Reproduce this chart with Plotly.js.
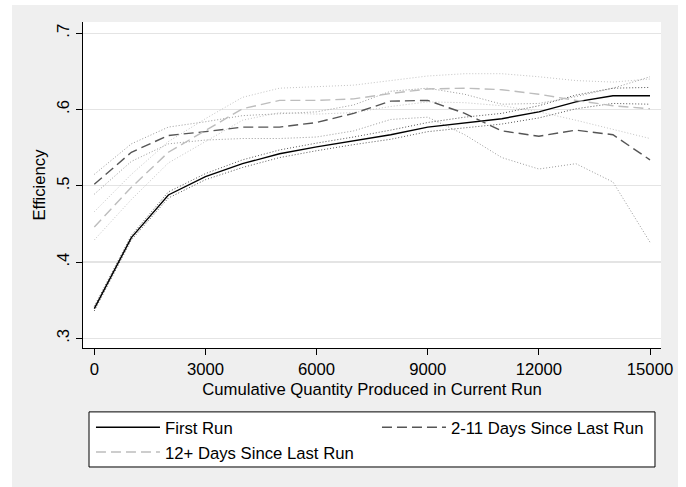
<!DOCTYPE html>
<html>
<head>
<meta charset="utf-8">
<script src="https://cdn.plot.ly/plotly-3.0.1.min.js"></script>
<style>
  html, body { margin: 0; padding: 0; background: #ffffff; }
  #chart { position: absolute; left: 12px; top: 5px; width: 666px; height: 482px; }
</style>
</head>
<body>
<div id="chart"></div>
<script>
// ---- data ----
const quantity = [0, 1000, 2000, 3000, 4000, 5000, 6000, 7000, 8000, 9000, 10000, 11000, 12000, 13000, 14000, 15000];

const firstRun      = [0.339, 0.432, 0.488, 0.512, 0.529, 0.542, 0.551, 0.559, 0.567, 0.577, 0.583, 0.588, 0.597, 0.610, 0.618, 0.618];
const firstRunUpper = [0.342, 0.435, 0.492, 0.516, 0.534, 0.547, 0.556, 0.564, 0.573, 0.583, 0.590, 0.595, 0.605, 0.619, 0.628, 0.629];
const firstRunLower = [0.336, 0.429, 0.484, 0.508, 0.524, 0.537, 0.546, 0.554, 0.561, 0.571, 0.576, 0.581, 0.589, 0.601, 0.608, 0.607];

const days2to11      = [0.502, 0.544, 0.566, 0.571, 0.577, 0.577, 0.583, 0.595, 0.611, 0.612, 0.595, 0.572, 0.565, 0.573, 0.567, 0.534];
const days2to11Upper = [0.515, 0.555, 0.577, 0.584, 0.592, 0.595, 0.597, 0.606, 0.624, 0.628, 0.620, 0.607, 0.608, 0.617, 0.628, 0.643];
const days2to11Lower = [0.489, 0.532, 0.555, 0.560, 0.562, 0.562, 0.564, 0.572, 0.587, 0.590, 0.567, 0.537, 0.522, 0.529, 0.505, 0.426];

const days12plus      = [0.446, 0.498, 0.544, 0.573, 0.601, 0.612, 0.612, 0.614, 0.621, 0.627, 0.628, 0.626, 0.620, 0.612, 0.605, 0.601];
const days12plusUpper = [0.466, 0.515, 0.558, 0.588, 0.616, 0.628, 0.630, 0.632, 0.638, 0.644, 0.647, 0.647, 0.643, 0.638, 0.636, 0.640];
const days12plusLower = [0.429, 0.482, 0.530, 0.558, 0.586, 0.596, 0.594, 0.596, 0.604, 0.610, 0.609, 0.605, 0.597, 0.586, 0.574, 0.562];

const seriesNames = ['First Run', '2-11 Days Since Last Run', '12+ Days Since Last Run'];

const xTickVals  = [0, 3000, 6000, 9000, 12000, 15000];
const xTickText  = ['0', '3000', '6000', '9000', '12000', '15000'];
const yTickVals  = [0.3, 0.4, 0.5, 0.6, 0.7];
const yTickText  = ['.3', '.4', '.5', '.6', '.7'];

const xTitle = 'Cumulative Quantity Produced in Current Run';
const yTitle = 'Efficiency';

// ---- chart ----
const FONT = 'Liberation Sans, Arial, Helvetica, sans-serif';
const FS = 16.7;

function ciTrace(y, color) {
  return { x: quantity, y: y, type: 'scatter', mode: 'lines', showlegend: false, hoverinfo: 'skip',
           line: { color: color, width: 1, dash: '1px,2px' } };
}

const traces = [
  ciTrace(days12plusUpper, '#c4c4c4'),
  ciTrace(days12plusLower, '#c4c4c4'),
  ciTrace(days2to11Upper, '#9a9a9a'),
  ciTrace(days2to11Lower, '#9a9a9a'),
  ciTrace(firstRunUpper, '#555555'),
  ciTrace(firstRunLower, '#555555'),
  { x: quantity, y: firstRun, type: 'scatter', mode: 'lines', name: seriesNames[0],
    line: { color: '#000000', width: 1.4 } },
  { x: quantity, y: days2to11, type: 'scatter', mode: 'lines', name: seriesNames[1],
    line: { color: '#555555', width: 1.4, dash: '10px,5px' } },
  { x: quantity, y: days12plus, type: 'scatter', mode: 'lines', name: seriesNames[2],
    line: { color: '#bdbdbd', width: 1.4, dash: '10px,5px' } }
];

const layout = {
  width: 666, height: 482,
  margin: { l: 71, r: 17, t: 17, b: 139, pad: 0 },
  paper_bgcolor: '#efefef',
  plot_bgcolor: '#ffffff',
  font: { family: FONT, size: FS, color: '#000000' },
  showlegend: true,
  xaxis: {
    range: [-305, 15297], tickmode: 'array', tickvals: xTickVals, ticktext: xTickText,
    showgrid: false, zeroline: false, showline: true, linecolor: '#000000', linewidth: 1,
    ticks: 'outside', ticklen: 6, tickwidth: 1, tickcolor: '#000000',
    tickfont: { family: FONT, size: FS, color: '#000000' },
    title: { text: xTitle, font: { family: FONT, size: FS, color: '#000000' }, standoff: 5 },
    automargin: false, fixedrange: true
  },
  yaxis: {
    range: [0.2873, 0.7148], tickmode: 'array', tickvals: yTickVals, ticktext: yTickText,
    showgrid: true, gridcolor: '#e4e4e4', gridwidth: 1.2, zeroline: false,
    showline: true, linecolor: '#000000', linewidth: 1,
    ticks: 'outside', ticklen: 6, tickwidth: 1, tickcolor: '#000000', tickangle: -90,
    tickfont: { family: FONT, size: FS, color: '#000000' },
    title: { text: yTitle, font: { family: FONT, size: FS, color: '#000000' }, standoff: 4 },
    automargin: false, fixedrange: true
  },
  legend: {
    orientation: 'h', x: 0.0138, xanchor: 'left', y: -0.19, yanchor: 'top',
    bgcolor: 'rgba(0,0,0,0)', borderwidth: 0, itemwidth: 64,
    entrywidthmode: 'pixels', entrywidth: 207, traceorder: 'normal',
    font: { family: FONT, size: FS, color: '#000000' }
  },
  shapes: [{
    type: 'rect', xref: 'paper', yref: 'paper', layer: 'below',
    x0: 0.0104, x1: 0.9896, y0: -0.196, y1: -0.365,
    fillcolor: '#ffffff', line: { color: '#000000', width: 1 }
  }]
};

Plotly.newPlot('chart', traces, layout, { displayModeBar: false, staticPlot: true });
</script>
</body>
</html>
